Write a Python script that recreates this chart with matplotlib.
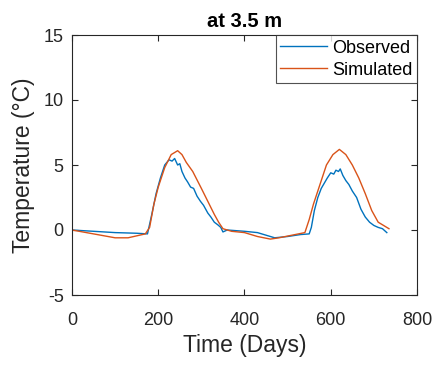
import matplotlib.pyplot as plt

plt.rcParams["font.family"] = ["Liberation Sans", "DejaVu Sans"]
plt.rcParams["axes.unicode_minus"] = False

obs_days = [0, 50, 100, 150, 175, 185, 195, 205, 215, 225, 232, 238, 245, 250, 255,
            262, 268, 275, 282, 290, 298, 305, 315, 322, 330, 338, 345, 350, 360,
            380, 400, 430, 450, 470, 500, 530, 550, 555, 562, 570, 578, 585, 592,
            600, 607, 612, 618, 622, 628, 635, 642, 650, 660, 670, 680, 690, 700,
            710, 720, 730]
obs_temp = [0.0, -0.1, -0.2, -0.25, -0.3, 1.2, 2.8, 4.0, 5.0, 5.4, 5.3, 5.5, 5.0, 5.1, 4.5,
            4.0, 3.7, 3.3, 3.2, 2.6, 2.2, 1.9, 1.3, 1.0, 0.6, 0.4, 0.2, -0.15, 0.0,
            -0.05, -0.1, -0.2, -0.4, -0.6, -0.5, -0.35, -0.3, 0.2, 1.5, 2.5, 3.2, 3.6, 4.0,
            4.4, 4.3, 4.6, 4.5, 4.7, 4.2, 3.8, 3.5, 3.0, 2.5, 1.6, 1.0, 0.6, 0.35,
            0.2, 0.1, -0.2]

sim_days = [0, 50, 100, 130, 170, 180, 190, 200, 215, 230, 245, 255, 265, 280, 300,
            315, 330, 340, 350, 370, 400, 430, 460, 480, 510, 540, 550, 560, 575,
            590, 605, 620, 635, 650, 665, 680, 695, 710, 725, 735]
sim_temp = [0.0, -0.3, -0.6, -0.6, -0.3, 0.2, 2.0, 3.3, 4.8, 5.8, 6.1, 5.8, 5.2, 4.5, 3.2,
            2.2, 1.2, 0.6, 0.1, -0.1, -0.2, -0.5, -0.7, -0.6, -0.4, -0.2, 0.8, 2.0, 3.5,
            5.0, 5.8, 6.2, 5.8, 5.0, 4.0, 2.8, 1.5, 0.6, 0.3, 0.1]

fig = plt.figure(figsize=(4.35, 3.68), dpi=100)
ax = fig.add_axes([72 / 435, 1 - 295 / 368, 345 / 435, 260 / 368])

ax.plot(obs_days, obs_temp, color="#0072BD", lw=1.0, label="Observed")
ax.plot(sim_days, sim_temp, color="#D95319", lw=1.0, label="Simulated")

ax.set_xlim(0, 800)
ax.set_ylim(-5, 15)
ax.set_xticks([0, 200, 400, 600, 800])
ax.set_yticks([-5, 0, 5, 10, 15])
ax.tick_params(direction="in", top=True, right=True, labelsize=13, length=4,
               colors="#262626", labelcolor="#262626")
ax.tick_params(axis="x", pad=12)
ax.tick_params(axis="y", pad=6)
for s in ax.spines.values():
    s.set_color("#262626")
    s.set_linewidth(0.8)

ax.set_xlabel("Time (Days)", fontsize=16.5, color="#262626", labelpad=4)
ax.set_ylabel("Temperature (°C)", fontsize=16.5, color="#262626", labelpad=6)
ax.set_title("at 3.5 m", fontsize=14.5, fontweight="bold", pad=6)

leg = ax.legend(loc="upper right", fontsize=13, frameon=True, fancybox=False,
                borderaxespad=0, handlelength=2.6, handletextpad=0.28,
                borderpad=0.25, labelspacing=0.28)
leg.get_frame().set_edgecolor("#262626")
leg.get_frame().set_linewidth(0.8)

fig.savefig("out.png", dpi=100)
